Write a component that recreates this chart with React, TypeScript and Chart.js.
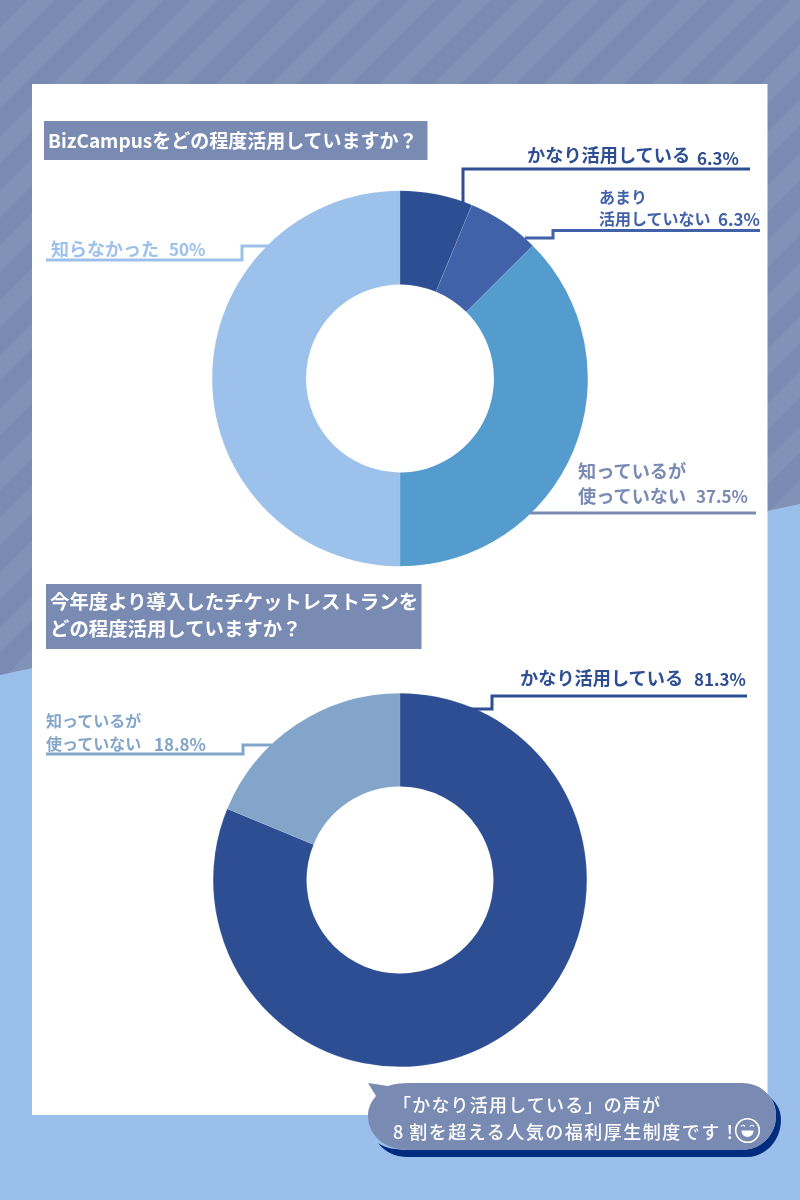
import React, { useEffect, useRef } from "react";
import { Chart, registerables } from "chart.js";

Chart.register(...registerables);

const usageLabels = ["かなり活用している", "あまり活用していない", "知っているが使っていない", "知らなかった"];
const usageValues = [6.25, 6.25, 37.5, 50];
const usageColors = ["#2D4E93", "#4161A8", "#549BCE", "#9CC1EB"];

const ticketLabels = ["かなり活用している", "知っているが使っていない"];
const ticketValues = [81.3, 18.8];
const ticketColors = ["#2D4E93", "#82A5C9"];

const FONT = '"Noto Sans CJK JP", "Noto Sans", sans-serif';

function Donut(props: { labels: string[]; values: number[]; colors: string[]; left: number; top: number; w: number; h: number }) {
  const ref = useRef<HTMLCanvasElement | null>(null);
  useEffect(() => {
    const chart = new Chart(ref.current as HTMLCanvasElement, {
      type: "doughnut",
      data: {
        labels: props.labels,
        datasets: [{ data: props.values, backgroundColor: props.colors, borderWidth: 0.3, borderColor: "rgba(255,255,255,0.35)" }],
      },
      options: {
        responsive: false,
        animation: false,
        cutout: "50%",
        layout: { padding: 0 },
        plugins: { legend: { display: false }, tooltip: { enabled: false }, title: { display: false } },
      },
    });
    return () => chart.destroy();
  }, []);
  return (
    <canvas
      ref={ref}
      width={props.w}
      height={props.h}
      style={{ position: "absolute", left: props.left, top: props.top, width: props.w, height: props.h }}
    />
  );
}

function Txt(props: { x: number; y: number; color: string; size: number; weight?: number; spacing?: number; children: React.ReactNode }) {
  return (
    <div
      style={{
        position: "absolute",
        left: props.x,
        top: props.y - 1,
        transform: "translateY(-50%)",
        color: props.color,
        fontFamily: FONT,
        fontSize: props.size,
        fontWeight: props.weight ?? 700,
        letterSpacing: props.spacing ?? 0,
        lineHeight: 1,
        whiteSpace: "nowrap",
      }}
    >
      {props.children}
    </div>
  );
}

export default function App() {
  return (
    <div style={{ position: "fixed", left: 0, top: 0, width: 800, height: 1200, overflow: "hidden", background: "#7A8BB3" }}>
      <svg width={800} height={1200} style={{ position: "absolute", left: 0, top: 0 }}>
        <defs>
          <pattern id="st" patternUnits="userSpaceOnUse" width={38.5} height={20} patternTransform="rotate(45)">
            <rect x={19.8} y={0} width={19.25} height={20} fill="#8192B7" />
          </pattern>
        </defs>
        <rect x={0} y={0} width={800} height={1200} fill="url(#st)" />
        <polygon points="0,675 800,504 800,1200 0,1200" fill="#9BBFEB" />
        <rect x={32} y={84} width={735.5} height={1031} fill="#FFFFFF" />
        <rect x={44} y={121} width={383.5} height={39} fill="#7A8BB3" />
        <rect x={46} y={584} width={375.5} height={65} fill="#7A8BB3" />
      </svg>

      <Donut labels={usageLabels} values={usageValues} colors={usageColors} left={212} top={190} w={376} h={377} />
      <Donut labels={ticketLabels} values={ticketValues} colors={ticketColors} left={213} top={693} w={374} h={374} />

      <svg width={800} height={1200} style={{ position: "absolute", left: 0, top: 0 }}>
        <g fill="none" strokeWidth={3}>
          <polyline points="463,204 463,169 750,169" stroke="#2D4E93" />
          <polyline points="525,238 553,238 553,230.5 760,230.5" stroke="#4161A8" />
          <polyline points="46,260 242,260 242,246 271,246" stroke="#9CC1EB" />
          <polyline points="530,513 756,513" stroke="#7A8BB3" />
          <polyline points="470,709 492,709 492,696 747,696" stroke="#2D4E93" />
          <polyline points="46,754 243,754 243,745 272,745" stroke="#82A5C9" />
        </g>
        <path
          d="M770,1097 C775,1102 781,1108 781,1120 C781,1140 766,1157 747,1157 L408,1157 C394,1157 384,1151 378,1143 C385,1148 396,1150 408,1150 L742,1150 C762,1150 776,1134 776,1116 C776,1108 774,1102 770,1097 Z"
          fill="#002C80"
        />
        <path
          d="M368,1083 L388,1086 Q396,1083 410,1083 L742,1083 C762,1083 776,1098 776,1116 C776,1134 762,1150 742,1150 L408,1150 C386,1150 368,1136 368,1116 C368,1108 371,1102 376,1096 Z"
          fill="#7A8BB3"
        />
        <circle cx={747.5} cy={1130.5} r={11.8} fill="none" stroke="#FFFFFF" strokeWidth={1.6} />
        <path d="M741,1126.5 Q743,1124 745,1126.5 M750,1126.5 Q752,1124 754,1126.5" fill="none" stroke="#FFFFFF" strokeWidth={1.2} />
        <path d="M741.5,1130.5 L753.5,1130.5 C753.5,1139 741.5,1139 741.5,1130.5 Z" fill="#FFFFFF" />
      </svg>

      <Txt x={48} y={140} color="#FFFFFF" size={19}>BizCampusをどの程度活用していますか？</Txt>
      <Txt x={50} y={601.5} color="#FFFFFF" size={19.4}>今年度より導入したチケットレストランを</Txt>
      <Txt x={50} y={629} color="#FFFFFF" size={19.4}>どの程度活用していますか？</Txt>

      <Txt x={527} y={155} color="#2D4E93" size={18.2}>{usageLabels[0]}</Txt>
      <Txt x={697} y={158} color="#2D4E93" size={17}>6.3%</Txt>

      <Txt x={599} y={197} color="#4161A8" size={16}>あまり</Txt>
      <Txt x={599} y={219} color="#4161A8" size={16}>活用していない</Txt>
      <Txt x={718} y={219} color="#4161A8" size={17}>6.3%</Txt>

      <Txt x={51} y={248.5} color="#9CC1EB" size={18}>{usageLabels[3]}</Txt>
      <Txt x={169} y={249} color="#9CC1EB" size={17}>50%</Txt>

      <Txt x={578} y={471} color="#7A8BB3" size={18.2}>知っているが</Txt>
      <Txt x={578} y={496} color="#7A8BB3" size={18.2}>使っていない</Txt>
      <Txt x={696} y={496} color="#7A8BB3" size={17}>37.5%</Txt>

      <Txt x={520} y={678} color="#2D4E93" size={18.2}>{ticketLabels[0]}</Txt>
      <Txt x={694} y={679} color="#2D4E93" size={17}>81.3%</Txt>

      <Txt x={46} y={721} color="#82A5C9" size={16}>知っているが</Txt>
      <Txt x={46} y={744} color="#82A5C9" size={16}>使っていない</Txt>
      <Txt x={154} y={744} color="#82A5C9" size={17}>18.8%</Txt>

      <Txt x={393} y={1104.5} color="#FFFFFF" size={18} weight={500} spacing={1.2}>「かなり活用している」の声が</Txt>
      <Txt x={393} y={1132} color="#FFFFFF" size={18} weight={500} spacing={1.5}>
        <span style={{ letterSpacing: 6 }}>8</span>割を超える人気の福利厚生制度です！
      </Txt>
    </div>
  );
}
